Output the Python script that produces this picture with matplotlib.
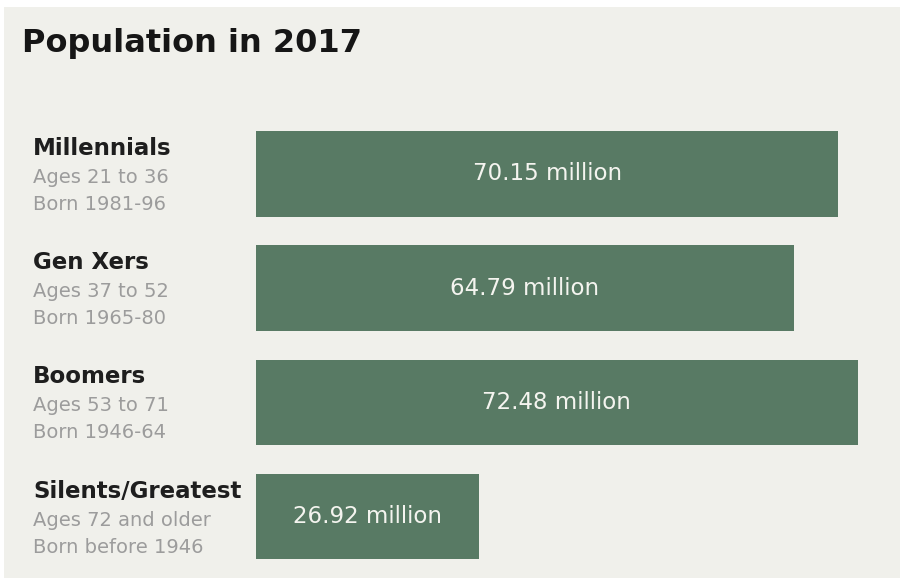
import matplotlib.pyplot as plt
from matplotlib.patches import Rectangle
import matplotlib.transforms as mtransforms

generations = ['Millennials', 'Gen Xers', 'Boomers', 'Silents/Greatest']
ages = ['Ages 21 to 36', 'Ages 37 to 52', 'Ages 53 to 71', 'Ages 72 and older']
born = ['Born 1981-96', 'Born 1965-80', 'Born 1946-64', 'Born before 1946']
population = [70.15, 64.79, 72.48, 26.92]  # millions

bar_color = '#587a64'
panel_color = '#f0f0eb'

fig = plt.figure(figsize=(9, 5.78), dpi=100)
fig.patch.set_facecolor('white')

# light panel behind everything
fig.patches.append(Rectangle((4 / 900, 0), 1 - 4 / 900, 1 - 7 / 578,
                             transform=fig.transFigure, facecolor=panel_color,
                             edgecolor='none', zorder=-10))

fig.text(22 / 900, 1 - 52 / 578, 'Population in 2017', fontsize=23,
         fontweight='bold', color='#161616', va='baseline', ha='left',
         family='DejaVu Sans')

ax = fig.add_axes([256 / 900, 1 - 573.6 / 578, 644 / 900, 456.7 / 578])
ax.patch.set_alpha(0)
ypos = list(range(len(generations)))
ax.barh(ypos, population, height=0.75, color=bar_color)
ax.set_xlim(0, 644 / 8.3)
ax.set_ylim(len(generations) - 0.5, -0.5)
ax.axis('off')

for y, v in zip(ypos, population):
    ax.text(v / 2, y, f'{v:.2f} million', ha='center', va='center',
            fontsize=16.5, color='#f4f4ef')

trans = mtransforms.blended_transform_factory(fig.transFigure, ax.transData)
for y, name, age, b in zip(ypos, generations, ages, born):
    ax.annotate(name, xy=(33 / 900, y), xycoords=trans, xytext=(0, 19),
                textcoords='offset pixels', va='baseline', ha='left',
                fontsize=16.5, fontweight='bold', color='#1e1e1e')
    ax.annotate(age, xy=(33 / 900, y), xycoords=trans, xytext=(0, -9),
                textcoords='offset pixels', va='baseline', ha='left',
                fontsize=14, color='#9c9c9c')
    ax.annotate(b, xy=(33 / 900, y), xycoords=trans, xytext=(0, -36),
                textcoords='offset pixels', va='baseline', ha='left',
                fontsize=14, color='#9c9c9c')

fig.savefig('out.png', dpi=100)
